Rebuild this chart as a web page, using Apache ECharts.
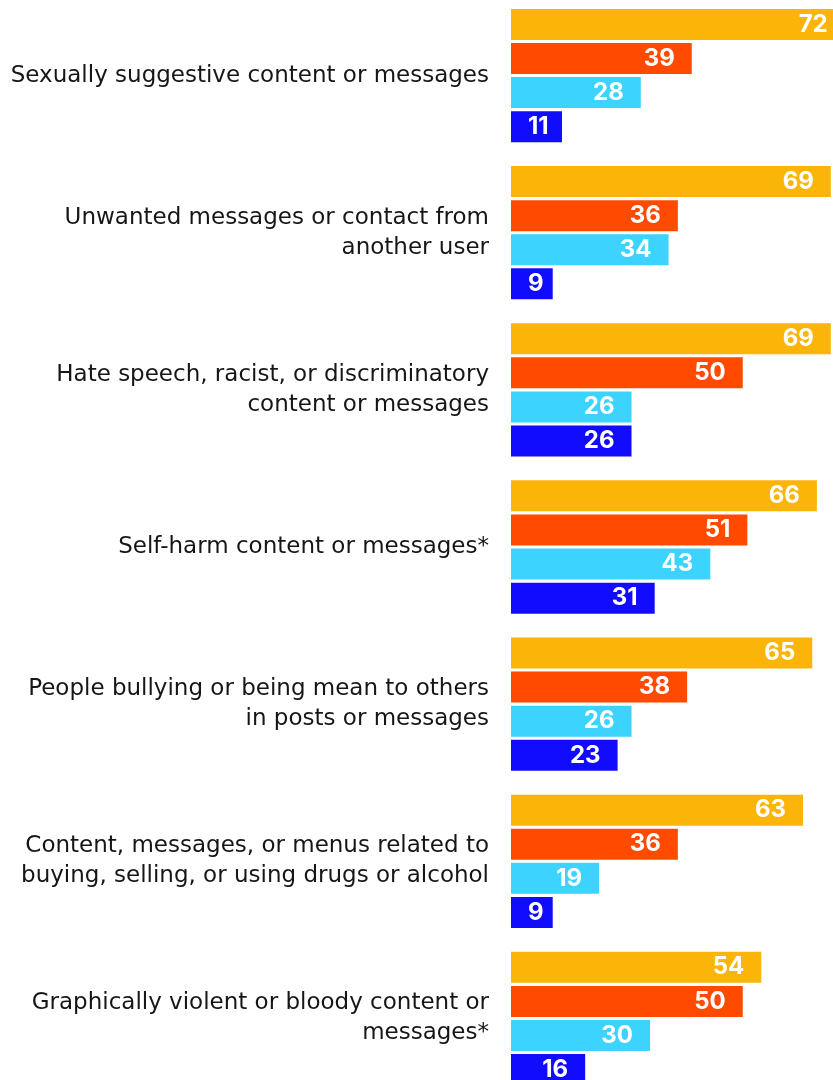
<!DOCTYPE html>
<html>
<head>
<meta charset="utf-8">
<script src="https://cdn.jsdelivr.net/npm/echarts@6/dist/echarts.min.js"></script>
<style>
  html, body { margin: 0; padding: 0; background: #ffffff; }
  #chart { width: 833px; height: 1080px; }
</style>
</head>
<body>
<div id="chart"></div>
<script>
// Topics, top to bottom
const categories = [
  'Sexually suggestive content or messages',
  'Unwanted messages or contact from\nanother user',
  'Hate speech, racist, or discriminatory\ncontent or messages',
  'Self-harm content or messages*',
  'People bullying or being mean to others\nin posts or messages',
  'Content, messages, or menus related to\nbuying, selling, or using drugs or alcohol',
  'Graphically violent or bloody content or\nmessages*'
];

// Four groups per topic, in drawing order within each block
const seriesGold = [72, 69, 69, 66, 65, 63, 54];
const seriesRed  = [39, 36, 50, 51, 38, 36, 50];
const seriesCyan = [28, 34, 26, 43, 26, 19, 30];
const seriesBlue = [11, 9, 26, 31, 23, 9, 16];

const colors = ['#FBB508', '#FF4A00', '#3CD3FF', '#120CFF'];
const valueSets = [seriesGold, seriesRed, seriesCyan, seriesBlue];

const chart = echarts.init(document.getElementById('chart'), null, { renderer: 'canvas' });

// Short bars keep their number inside, anchored at the left end
function item(v) {
  if (v < 12) {
    return { value: v, label: { position: 'insideLeft', distance: 17 } };
  }
  return v;
}

const series = valueSets.map((vals, i) => ({
  type: 'bar',
  data: vals.map(item),
  barWidth: 31,
  barGap: '10%',
  barCategoryGap: '15.4%',
  clip: false,
  itemStyle: { color: colors[i] },
  label: {
    show: true,
    position: 'insideRight',
    distance: 17,
    color: '#ffffff',
    fontFamily: 'Inter',
    fontWeight: 'bold',
    fontSize: 24,
    padding: [3, 0, 0, 0]
  },
  silent: true
}));

chart.setOption({
  animation: false,
  backgroundColor: '#ffffff',
  grid: {
    left: 511, top: -3, width: 463.5, height: 1100,
    outerBoundsMode: 'none', containLabel: false
  },
  xAxis: {
    type: 'value',
    min: 0,
    max: 100,
    show: false
  },
  yAxis: {
    type: 'category',
    data: categories,
    inverse: true,
    axisLine: { show: false },
    axisTick: { show: false },
    splitLine: { show: false },
    axisLabel: {
      margin: 22,
      color: '#161616',
      fontFamily: 'DejaVu Sans',
      fontSize: 23,
      lineHeight: 30,
      align: 'right',
      padding: [4, 0, 0, 0]
    }
  },
  series: series
});
</script>
</body>
</html>
